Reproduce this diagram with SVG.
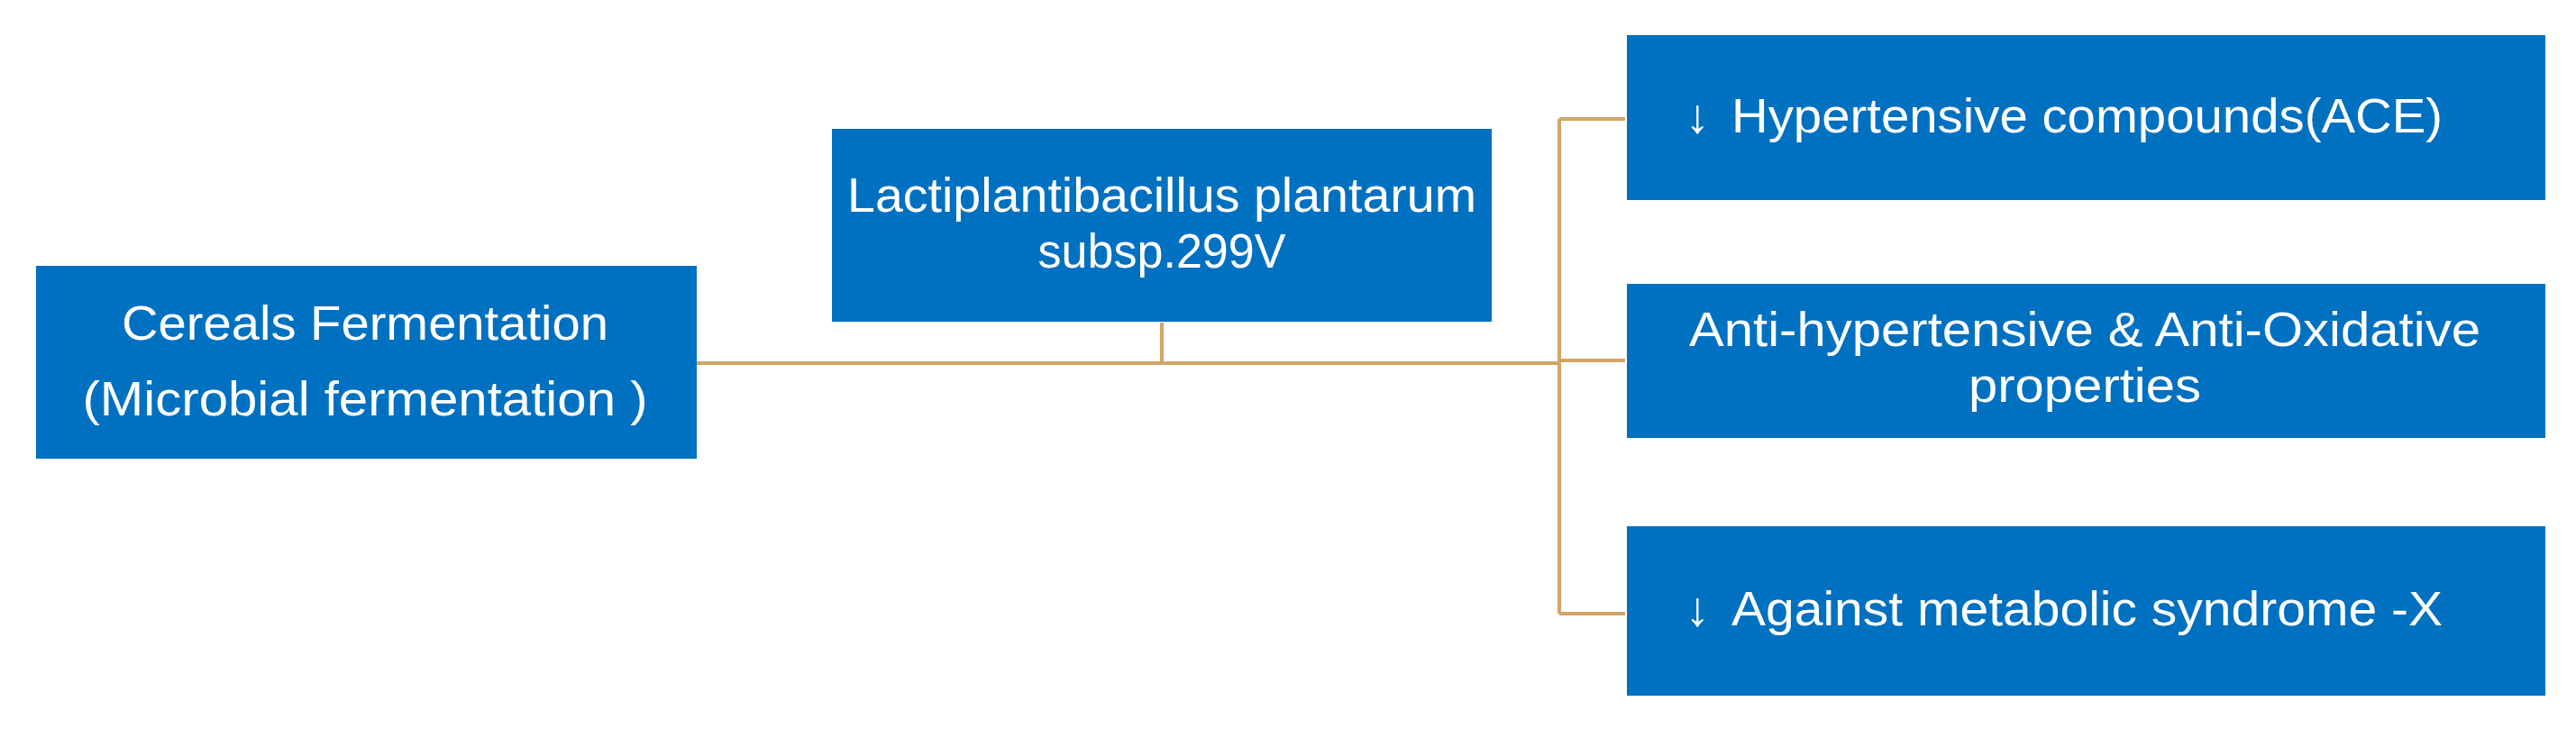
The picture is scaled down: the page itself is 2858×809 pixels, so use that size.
<svg xmlns="http://www.w3.org/2000/svg" width="2858" height="809" viewBox="0 0 2858 809">
<style>
.box{fill:#0070C0}
.t{fill:#fff;font-family:"Liberation Sans",Arial,sans-serif;font-size:54px}
.c{stroke:#D2A566;stroke-width:4;fill:none}
</style>
<rect width="2858" height="809" fill="#fff"/>
<g id="connectors">
<path class="c" d="M773 403H1730M1289 358V403M1730 132V681M1730 132H1803M1730 400H1803M1730 681H1803"/>
</g>
<g id="n1"><rect class="box" x="40" y="295" width="733" height="214"/>
<text class="t" x="405" y="377" text-anchor="middle" textLength="540" lengthAdjust="spacingAndGlyphs">Cereals Fermentation</text>
<text class="t" x="405" y="461" text-anchor="middle" textLength="627" lengthAdjust="spacingAndGlyphs">(Microbial fermentation )</text></g>
<g id="n2"><rect class="box" x="923" y="143" width="732" height="214"/>
<text class="t" x="1289" y="235" text-anchor="middle" textLength="698" lengthAdjust="spacingAndGlyphs">Lactiplantibacillus plantarum</text>
<text class="t" x="1289" y="297" text-anchor="middle" textLength="275" lengthAdjust="spacingAndGlyphs">subsp.299V</text></g>
<g id="n3"><rect class="box" x="1805" y="39" width="1019" height="183"/>
<text class="t" x="1870" y="147">↓</text>
<text class="t" x="1921" y="147" textLength="789" lengthAdjust="spacingAndGlyphs">Hypertensive compounds(ACE)</text></g>
<g id="n4"><rect class="box" x="1805" y="315" width="1019" height="171"/>
<text class="t" x="2313" y="384" text-anchor="middle" textLength="878" lengthAdjust="spacingAndGlyphs">Anti-hypertensive &amp; Anti-Oxidative</text>
<text class="t" x="2313" y="446" text-anchor="middle" textLength="258" lengthAdjust="spacingAndGlyphs">properties</text></g>
<g id="n5"><rect class="box" x="1805" y="584" width="1019" height="188"/>
<text class="t" x="1870" y="694">↓</text>
<text class="t" x="1921" y="694" textLength="789" lengthAdjust="spacingAndGlyphs">Against metabolic syndrome -X</text></g>
</svg>
